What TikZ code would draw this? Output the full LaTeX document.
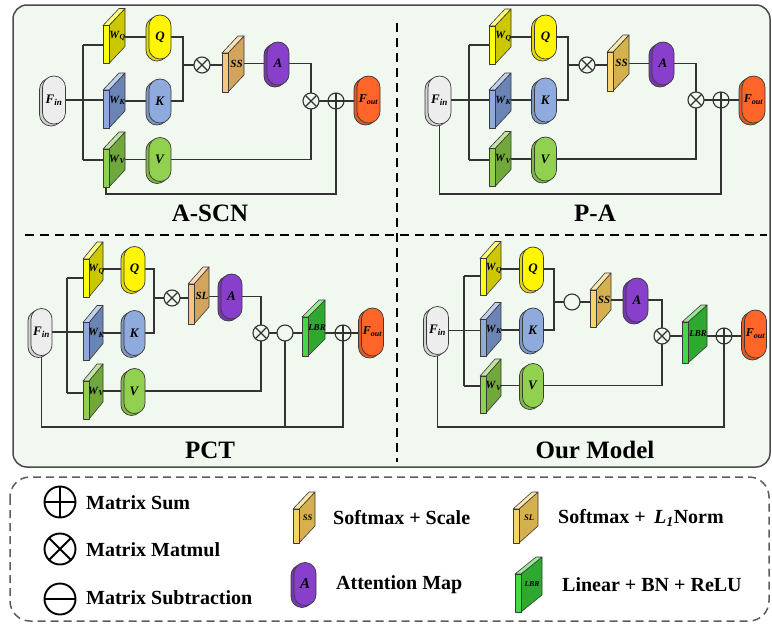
\documentclass[tikz,border=0pt]{standalone}
\usepackage{fontspec}
\setmainfont{Liberation Serif}
\usetikzlibrary{calc}
\pgfdeclarelayer{bg}\pgfdeclarelayer{lines}
\pgfsetlayers{bg,lines,main}
\newcommand{\lab}[2]{\textbf{\textit{#1}}\textsubscript{\textbf{\textit{#2}}}}
\newcommand{\labb}[1]{\textbf{\textit{#1}}}
\definecolor{panelC}{HTML}{F0F8F0}
\definecolor{borderC}{HTML}{4A4A4A}
\definecolor{lineC}{HTML}{333333}
\definecolor{edgeC}{HTML}{3A3A3A}
\definecolor{yF}{HTML}{FFFF10}
\definecolor{yS}{HTML}{CCC800}
\definecolor{bF}{HTML}{8FAADC}
\definecolor{bS}{HTML}{6A84B6}
\definecolor{gF}{HTML}{92D050}
\definecolor{gS}{HTML}{70A83C}
\definecolor{oF}{HTML}{F7C57E}
\definecolor{oS}{HTML}{D2A45E}
\definecolor{dF}{HTML}{F8D468}
\definecolor{dS}{HTML}{D5B04E}
\definecolor{lF}{HTML}{44D844}
\definecolor{lS}{HTML}{2EA82E}
\definecolor{capQ}{HTML}{FFF500}
\definecolor{capK}{HTML}{8FAADC}
\definecolor{capV}{HTML}{92D050}
\definecolor{capA}{HTML}{8840CC}
\definecolor{capIn}{HTML}{EDEDED}
\definecolor{capOut}{HTML}{FF6428}
\tikzset{
  x=1pt, y=-1pt,
  conn/.style={draw=lineC, line width=1.1pt},
  pbox/.style={inner sep=0pt, outer sep=0pt, draw=none},
  face/.style={draw=edgeC, line width=0.6pt, line join=round},
  capsule/.style={draw=edgeC, line width=0.7pt, inner sep=0pt, outer sep=0pt, font=\fontsize{13}{14}\selectfont},
  opbase/.style={circle, draw=lineC, line width=1.1pt, fill=panelC, minimum size=16pt, inner sep=0pt, outer sep=0pt},
  otimesop/.style={opbase, path picture={\draw[lineC, line width=1.1pt] (path picture bounding box.north east) -- (path picture bounding box.south west) (path picture bounding box.north west) -- (path picture bounding box.south east);}},
  oplusop/.style={opbase, path picture={\draw[lineC, line width=1.1pt] (path picture bounding box.north) -- (path picture bounding box.south) (path picture bounding box.west) -- (path picture bounding box.east);}},
  ominusop/.style={opbase},
  legop/.style={minimum size=31pt, line width=1.9pt, draw=black, fill=white},
  legminus/.style={opbase, legop, path picture={\draw[black, line width=1.9pt] (path picture bounding box.west) -- (path picture bounding box.east);}},
  legplus/.style={opbase, legop, path picture={\draw[black, line width=1.9pt] (path picture bounding box.north) -- (path picture bounding box.south) (path picture bounding box.west) -- (path picture bounding box.east);}},
  legtimes/.style={opbase, legop, path picture={\draw[black, line width=1.9pt] (path picture bounding box.north east) -- (path picture bounding box.south west) (path picture bounding box.north west) -- (path picture bounding box.south east);}},
  title/.style={font=\fontsize{25}{29}\selectfont\bfseries},
  legtext/.style={anchor=west, inner sep=0pt, font=\fontsize{20}{24}\selectfont\bfseries},
  divider/.style={draw=black, line width=1.8pt, dash pattern=on 9pt off 6pt},
}
% plate: name, cx, cy, W, H, front, side, label
\newcommand{\plate}[8]{%
  \node[pbox, minimum width=#4pt, minimum height=#5pt] (#1) at (#2,#3) {};
  \draw[face, fill=#7] ($(#1.south west)+(6pt,0pt)$) -- ($(#1.north west)+(6pt,-17pt)$) -- (#1.north east) -- ($(#1.south east)+(0pt,17pt)$) -- cycle;
  \draw[face, fill=#6!55!white] ($(#1.north west)+(0pt,-17pt)$) -- ($(#1.north east)+(-6pt,0pt)$) -- (#1.north east) -- ($(#1.north west)+(6pt,-17pt)$) -- cycle;
  \draw[face, fill=#6] (#1.south west) rectangle ($(#1.north west)+(6pt,-17pt)$);
  \node[inner sep=0pt, font=\fontsize{11}{12}\selectfont] at ($(#1.center)+(3.5pt,0pt)$) {#8};
}
% capsule: name, cx, cy, w, h, colour, label
\newcommand{\capsule}[7]{%
  \pgfmathsetmacro\capr{#4/2-0.05}%
  \node[capsule, rounded corners=\capr pt, fill=#6!88!black, minimum width=#4pt, minimum height=#5pt] (#1-b) at ({#2-3},{#3+2}) {};
  \node[capsule, rounded corners=\capr pt, fill=#6, minimum width=#4pt, minimum height=#5pt] (#1) at (#2,#3) {#7};
}
\begin{document}
\begin{tikzpicture}
\useasboundingbox (0,0) rectangle (772,624);
\begin{pgfonlayer}{bg}
  \draw[draw=borderC, fill=panelC, line width=1.5pt, rounded corners=14pt] (13,5) rectangle (770,467);
  \draw[divider] (397,23) -- (397,462);
  \draw[divider] (25,235) -- (767,235);
  \draw[draw=borderC!90, line width=1.5pt, dash pattern=on 8pt off 5pt, rounded corners=20pt] (10,477) rectangle (769,621);
\end{pgfonlayer}

% ================= Panel 1: A-SCN =================
\capsule{fin1}{54}{100}{23}{48}{capIn}{\lab{F}{in}}
\plate{wq1}{114}{36}{22}{55}{yF}{yS}{\lab{W}{Q}}
\plate{wk1}{114}{100.5}{22}{55}{bF}{bS}{\lab{W}{K}}
\plate{wv1}{114}{159.5}{22}{55}{gF}{gS}{\lab{W}{V}}
\capsule{q1}{160}{37}{22}{44}{capQ}{\labb{Q}}
\capsule{k1}{160}{101}{22}{44}{capK}{\labb{K}}
\capsule{v1}{160}{159.5}{22}{44}{capV}{\labb{V}}
\node[otimesop] (mm1a) at (202,65) {};
\plate{ss1}{233}{64}{22}{56}{oF}{oS}{\labb{SS}}
\capsule{a1}{278}{63.5}{22}{43}{capA}{\labb{A}}
\node[otimesop] (mm1b) at (311,101) {};
\node[oplusop] (pl1) at (336,101) {};
\capsule{fout1}{368.5}{99.5}{23}{47}{capOut}{\fontsize{12}{13}\selectfont\lab{F}{out}}
\coordinate (b1t) at (83,45);
\coordinate (b1b) at (83,160);
\coordinate (j1) at (183,65);
\coordinate (r1) at (336,194);
\node[title] (t1) at (210,213) {A-SCN};

% ================= Panel 2: P-A =================
\capsule{fin2}{439.5}{100}{23}{48}{capIn}{\lab{F}{in}}
\plate{wq2}{500}{36.5}{22}{55}{yF}{yS}{\lab{W}{Q}}
\plate{wk2}{500}{100.5}{22}{55}{bF}{bS}{\lab{W}{K}}
\plate{wv2}{500}{159}{22}{55}{gF}{gS}{\lab{W}{V}}
\capsule{q2}{545.5}{37}{22}{44}{capQ}{\labb{Q}}
\capsule{k2}{545.5}{100}{22}{44}{capK}{\labb{K}}
\capsule{v2}{545.5}{159}{22}{44}{capV}{\labb{V}}
\node[otimesop] (mm2a) at (587,65) {};
\plate{ss2}{618}{63}{22}{56}{dF}{dS}{\labb{SS}}
\capsule{a2}{663}{63.5}{22}{43}{capA}{\labb{A}}
\node[otimesop] (mm2b) at (696,100) {};
\node[oplusop] (pl2) at (721,100) {};
\capsule{fout2}{753.5}{99.5}{23}{47}{capOut}{\fontsize{12}{13}\selectfont\lab{F}{out}}
\coordinate (b2t) at (469,45);
\coordinate (b2b) at (469,160);
\coordinate (j2) at (568,65);
\coordinate (r2) at (721,194);
\node[title] (t2) at (595,213) {P-A};

% ================= Panel 3: PCT =================
\capsule{fin3}{41.5}{332}{21}{47}{capIn}{\lab{F}{in}}
\plate{wq3}{93}{269.5}{20}{55}{yF}{yS}{\lab{W}{Q}}
\plate{wk3}{93}{333}{20}{55}{bF}{bS}{\lab{W}{K}}
\plate{wv3}{93}{391.5}{20}{55}{gF}{gS}{\lab{W}{V}}
\capsule{q3}{134.5}{269}{21}{45}{capQ}{\labb{Q}}
\capsule{k3}{134.5}{333}{21}{45}{capK}{\labb{K}}
\capsule{v3}{134.5}{391}{21}{45}{capV}{\labb{V}}
\node[otimesop] (mm3a) at (172,298) {};
\plate{sl3}{198.5}{295.5}{21}{57}{oF}{oS}{\labb{SL}}
\capsule{a3}{231.5}{296.5}{21}{45}{capA}{\labb{A}}
\node[otimesop] (mm3b) at (261,333) {};
\node[ominusop] (mi3) at (285,333) {};
\plate{lbr3}{313.5}{328}{23}{56}{lF}{lS}{\fontsize{9}{10}\selectfont\labb{LBR}}
\node[oplusop] (pl3) at (343,333) {};
\capsule{fout3}{372.5}{332}{22}{48}{capOut}{\fontsize{12}{13}\selectfont\lab{F}{out}}
\coordinate (b3t) at (67,278);
\coordinate (b3b) at (67,393);
\coordinate (j3) at (154,298);
\coordinate (r3) at (343,427);
\node[title] (t3) at (210,450) {PCT};

% ================= Panel 4: Our Model =================
\capsule{fin4}{437.5}{330.5}{22}{48}{capIn}{\lab{F}{in}}
\plate{wq4}{490.5}{268.5}{21}{54}{yF}{yS}{\lab{W}{Q}}
\plate{wk4}{490.5}{329.5}{21}{54}{bF}{bS}{\lab{W}{K}}
\plate{wv4}{490.5}{386}{21}{54}{gF}{gS}{\lab{W}{V}}
\capsule{q4}{533}{269}{21}{44}{capQ}{\labb{Q}}
\capsule{k4}{533}{330}{21}{44}{capK}{\labb{K}}
\capsule{v4}{533}{385.5}{21}{44}{capV}{\labb{V}}
\node[ominusop] (mi4) at (572,302) {};
\plate{ss4}{600.5}{300}{21}{54}{dF}{dS}{\labb{SS}}
\capsule{a4}{637}{300}{22}{44}{capA}{\labb{A}}
\node[otimesop] (mm4) at (662,336) {};
\plate{lbr4}{694.5}{334}{25}{58}{lF}{lS}{\fontsize{9}{10}\selectfont\labb{LBR}}
\node[oplusop] (pl4) at (724,336) {};
\capsule{fout4}{755.5}{334}{22}{48}{capOut}{\fontsize{12}{13}\selectfont\lab{F}{out}}
\coordinate (b4t) at (464,276);
\coordinate (b4b) at (464,386);
\coordinate (j4) at (554,302);
\coordinate (r4) at (724,427);
\node[title] (t4) at (595,450) {Our Model};

% ================= Connectors =================
\begin{pgfonlayer}{lines}
  % panel 1
  \draw[conn] (fin1.east) -- (fin1.east -| wk1.west);
  \draw[conn] (b1t) -- (b1b);
  \draw[conn] (b1t) -- (b1t -| wq1.west);
  \draw[conn] (b1b) -- (b1b -| wv1.west);
  \draw[conn] (q1.west -| wq1.east) -- (q1.west);
  \draw[conn] (k1.west -| wk1.east) -- (k1.west);
  \draw[conn] (v1.west -| wv1.east) -- (v1.west);
  \draw[conn] (q1.east) -| (j1) |- (k1.east);
  \draw[conn] (j1) -- (mm1a);
  \draw[conn] (mm1a) -- (mm1a -| ss1.west);
  \draw[conn] (a1.west -| ss1.east) -- (a1.west);
  \draw[conn] (a1.east) -| (mm1b);
  \draw[conn] (v1.east) -| (mm1b);
  \draw[conn] (mm1b) -- (pl1);
  \draw[conn] (pl1) -- (pl1 -| fout1-b.west);
  \draw[conn] ($(wv1.south west)+(3pt,0pt)$) |- (r1) -- (pl1);
  % panel 2
  \draw[conn] (fin2.east) -- (fin2.east -| wk2.west);
  \draw[conn] (b2t) -- (b2b);
  \draw[conn] (b2t) -- (b2t -| wq2.west);
  \draw[conn] (b2b) -- (b2b -| wv2.west);
  \draw[conn] (q2.west -| wq2.east) -- (q2.west);
  \draw[conn] (k2.west -| wk2.east) -- (k2.west);
  \draw[conn] (v2.west -| wv2.east) -- (v2.west);
  \draw[conn] (q2.east) -| (j2) |- (k2.east);
  \draw[conn] (j2) -- (mm2a);
  \draw[conn] (mm2a) -- (mm2a -| ss2.west);
  \draw[conn] (a2.west -| ss2.east) -- (a2.west);
  \draw[conn] (a2.east) -| (mm2b);
  \draw[conn] (v2.east) -| (mm2b);
  \draw[conn] (mm2b) -- (pl2);
  \draw[conn] (pl2) -- (pl2 -| fout2-b.west);
  \draw[conn] (fin2.south) |- (r2) -- (pl2);
  % panel 3
  \draw[conn] (fin3.east) -- (fin3.east -| wk3.west);
  \draw[conn] (b3t) -- (b3b);
  \draw[conn] (b3t) -- (b3t -| wq3.west);
  \draw[conn] (b3b) -- (b3b -| wv3.west);
  \draw[conn] (q3.west -| wq3.east) -- (q3.west);
  \draw[conn] (k3.west -| wk3.east) -- (k3.west);
  \draw[conn] (v3.west -| wv3.east) -- (v3.west);
  \draw[conn] (q3.east) -| (j3) |- (k3.east);
  \draw[conn] (j3) -- (mm3a);
  \draw[conn] (mm3a) -- (mm3a -| sl3.west);
  \draw[conn] (a3.west -| sl3.east) -- (a3.west);
  \draw[conn] (a3.east) -| (mm3b);
  \draw[conn] (v3.east) -| (mm3b);
  \draw[conn] (mm3b) -- (mi3);
  \draw[conn] (mi3) -- (mi3 -| lbr3.west);
  \draw[conn] (pl3 -| lbr3.east) -- (pl3);
  \draw[conn] (pl3) -- (pl3 -| fout3-b.west);
  \draw[conn] (fin3.south) |- (r3) -- (pl3);
  \draw[conn] (mi3) -- (mi3 |- r3);
  % panel 4
  \draw[conn] (fin4.east) -- (fin4.east -| wk4.west);
  \draw[conn] (b4t) -- (b4b);
  \draw[conn] (b4t) -- (b4t -| wq4.west);
  \draw[conn] (b4b) -- (b4b -| wv4.west);
  \draw[conn] (q4.west -| wq4.east) -- (q4.west);
  \draw[conn] (k4.west -| wk4.east) -- (k4.west);
  \draw[conn] (v4.west -| wv4.east) -- (v4.west);
  \draw[conn] (q4.east) -| (j4) |- (k4.east);
  \draw[conn] (j4) -- (mi4);
  \draw[conn] (mi4) -- (mi4 -| ss4.west);
  \draw[conn] (a4.west -| ss4.east) -- (a4.west);
  \draw[conn] (a4.east) -| (mm4);
  \draw[conn] (v4.east) -| (mm4);
  \draw[conn] (mm4) -- (mm4 -| lbr4.west);
  \draw[conn] (pl4 -| lbr4.east) -- (pl4);
  \draw[conn] (pl4) -- (pl4 -| fout4-b.west);
  \draw[conn] (fin4.south) |- (r4) -- (pl4);
\end{pgfonlayer}

% ================= Legend =================
\node[legplus] (lg1) at (60,502) {};
\node[legtext] (lt1) at (86,503) {Matrix Sum};
\node[legtimes] (lg2) at (60,549) {};
\node[legtext] (lt2) at (86,550) {Matrix Matmul};
\node[legminus] (lg3) at (60,599) {};
\node[legtext] (lt3) at (86,598) {Matrix Subtraction};
\plate{lgss}{304}{517.5}{22}{51}{dF}{dS}{\fontsize{8.5}{9}\selectfont\labb{SS}}
\node[legtext] (lt4) at (333,518) {Softmax + Scale};
\capsule{lga}{305}{584}{22}{43}{capA}{\fontsize{15}{16}\selectfont\labb{A}}
\node[legtext] (lt5) at (336,585) {Attention Map};
\plate{lgsl}{525.5}{517.5}{25}{51}{dF}{dS}{\fontsize{8.5}{9}\selectfont\labb{SL}}
\node[legtext] (lt6) at (558,518) {Softmax + \,\lab{L}{1}Norm};
\plate{lglbr}{528.5}{584.5}{27}{55}{lF}{lS}{\fontsize{7.5}{8}\selectfont\labb{LBR}}
\node[legtext] (lt7) at (562,585) {Linear + BN + ReLU};
\end{tikzpicture}
\end{document}
